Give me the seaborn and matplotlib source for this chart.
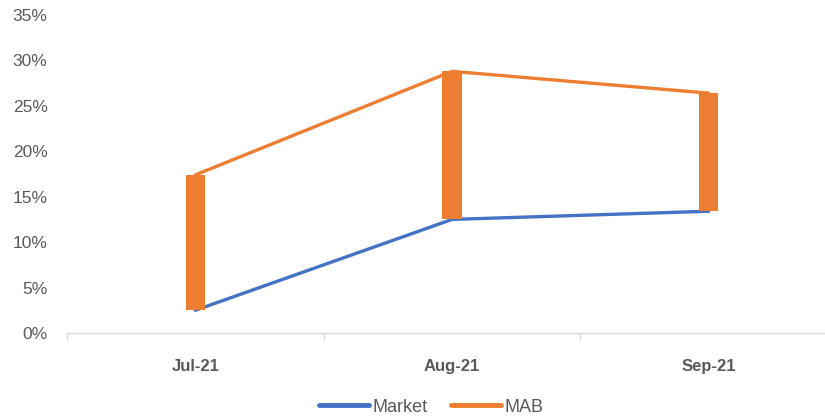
import numpy as np
import pandas as pd
import matplotlib
matplotlib.use("Agg")
import matplotlib.pyplot as plt
import seaborn as sns
from matplotlib.lines import Line2D
from matplotlib.ticker import PercentFormatter, FixedLocator

months = ["Jul-21", "Aug-21", "Sep-21"]
market = [2.5, 12.5, 13.4]
mab = [17.4, 28.8, 26.4]
yticks = [0, 5, 10, 15, 20, 25, 30, 35]

sns.set_theme(style="white")
plt.rcParams["font.family"] = ["Liberation Sans", "DejaVu Sans"]

BLUE = "#4472C4"
ORANGE = "#ED7D31"
GREY = "#595959"

df = pd.DataFrame({
    "month": months * 2,
    "value": market + mab,
    "series": ["Market"] * 3 + ["MAB"] * 3,
})

fig = plt.figure(figsize=(8.25, 4.2), dpi=100)
ax = fig.add_axes([67 / 825, (420 - 333) / 420, (837 - 67) / 825, 318 / 420])

sns.lineplot(data=df, x="month", y="value", hue="series",
             palette={"Market": BLUE, "MAB": ORANGE}, linewidth=2.4,
             ax=ax, legend=False, zorder=2)

pos = np.arange(len(months))
lo = np.array(market)
hi = np.array(mab)
ax.bar(pos, hi - lo, bottom=lo, width=0.075, color=ORANGE, zorder=3,
       edgecolor="none")

ax.set_xlim(-0.5, 2.5)
ax.set_ylim(0, 35)
ax.yaxis.set_major_locator(FixedLocator(yticks))
ax.yaxis.set_major_formatter(PercentFormatter(decimals=0))
ax.set_xlabel("")
ax.set_ylabel("")

for s in ["top", "right", "left"]:
    ax.spines[s].set_visible(False)
ax.spines["bottom"].set_color("#D9D9D9")
ax.spines["bottom"].set_linewidth(1.0)

ax.set_xticks(pos)
ax.set_xticklabels(months, fontweight="bold", fontsize=12, color=GREY)
ax.set_xticks([-0.5, 0.5, 1.5, 2.5], minor=True)
ax.tick_params(axis="x", which="major", length=0, pad=19)
ax.tick_params(axis="x", which="minor", length=5, color="#D9D9D9", width=1,
               direction="out", bottom=True)
ax.tick_params(axis="y", length=0, labelsize=12.5, labelcolor=GREY, pad=14)

handles = [Line2D([], [], color=BLUE, linewidth=3.5, solid_capstyle="round"),
           Line2D([], [], color=ORANGE, linewidth=3.5, solid_capstyle="round")]
leg = fig.legend(handles, ["Market", "MAB"],
                 loc="center", bbox_to_anchor=(431 / 825, 1 - 407 / 420),
                 ncol=2, frameon=False, fontsize=13, handlelength=2.8,
                 columnspacing=1.3, handletextpad=0.15)
for t in leg.get_texts():
    t.set_color(GREY)

fig.savefig("out.png", dpi=100)
